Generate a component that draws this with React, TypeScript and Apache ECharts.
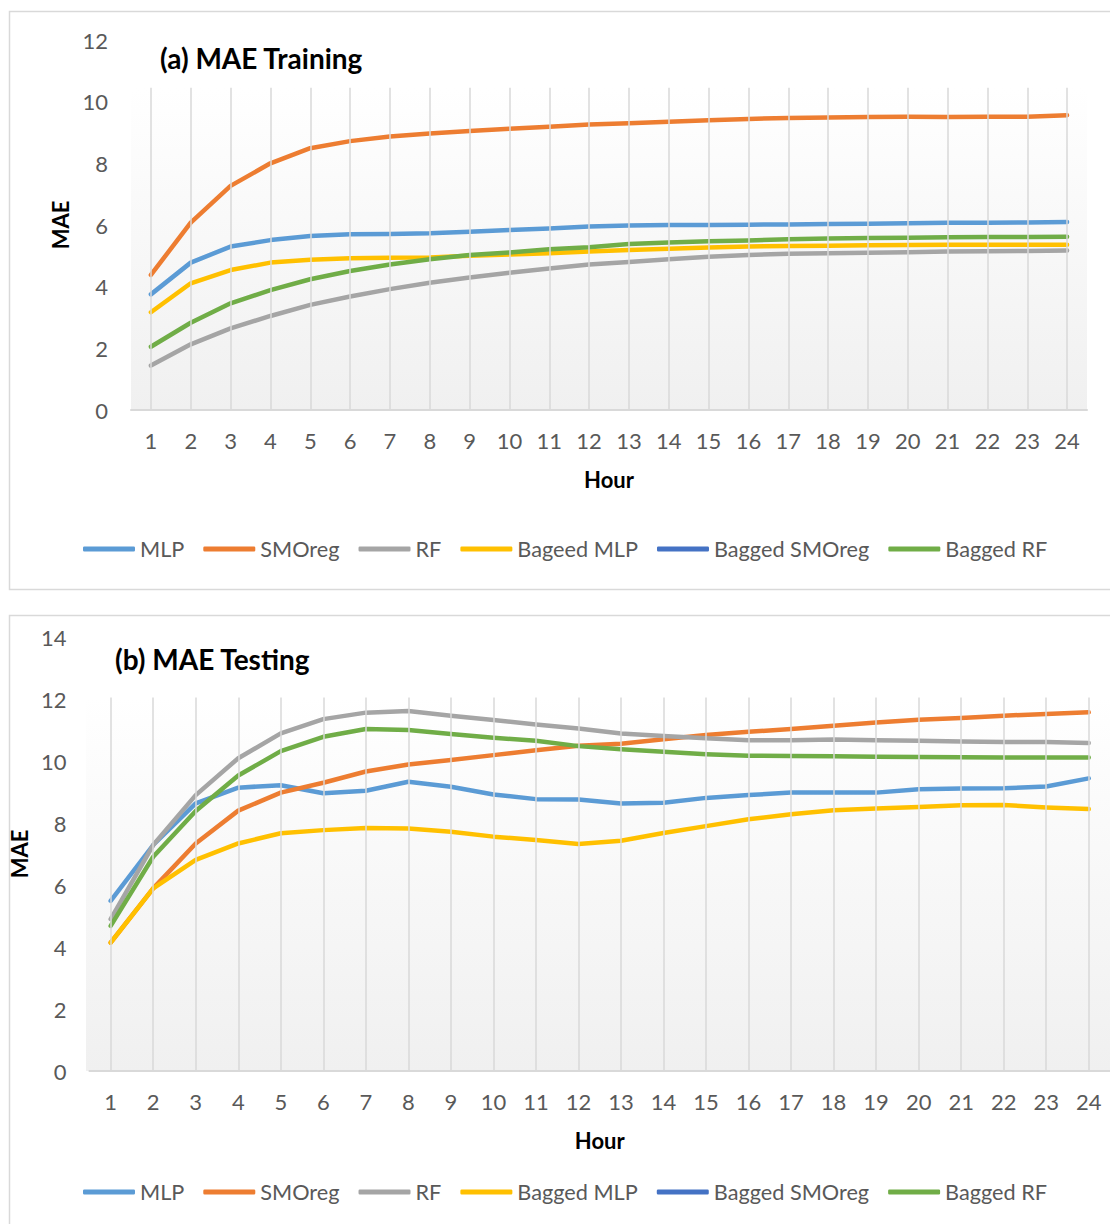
import React, { useEffect, useRef } from "react";
import * as echarts from "echarts";

const hours = ["1","2","3","4","5","6","7","8","9","10","11","12","13","14","15","16","17","18","19","20","21","22","23","24"];
const yTicksTrain = [0, 2, 4, 6, 8, 10, 12];
const yTicksTest = [0, 2, 4, 6, 8, 10, 12, 14];

const trainMLP = [3.75,4.78,5.30,5.51,5.64,5.70,5.71,5.73,5.78,5.84,5.89,5.95,5.98,6.00,6.00,6.01,6.02,6.03,6.04,6.06,6.07,6.07,6.08,6.10];
const trainSMOreg = [4.38,6.08,7.27,8.00,8.49,8.72,8.87,8.97,9.05,9.12,9.19,9.26,9.30,9.35,9.40,9.44,9.47,9.49,9.50,9.51,9.50,9.51,9.51,9.56];
const trainRF = [1.44,2.13,2.65,3.05,3.41,3.68,3.92,4.13,4.30,4.45,4.59,4.72,4.80,4.89,4.97,5.03,5.07,5.08,5.10,5.12,5.14,5.15,5.16,5.17];
const trainBagMLP = [3.17,4.11,4.54,4.78,4.87,4.92,4.94,4.95,5.00,5.04,5.08,5.14,5.19,5.23,5.27,5.30,5.32,5.33,5.34,5.35,5.36,5.36,5.36,5.36];
const trainBagSMOreg: number[] = [];
const trainBagRF = [2.05,2.83,3.46,3.89,4.24,4.51,4.72,4.89,5.03,5.11,5.21,5.28,5.38,5.43,5.47,5.50,5.54,5.56,5.58,5.59,5.60,5.61,5.61,5.62];

const testMLP = [5.49,7.29,8.63,9.14,9.22,8.96,9.04,9.33,9.17,8.92,8.77,8.76,8.63,8.65,8.81,8.90,8.98,8.98,8.98,9.09,9.11,9.12,9.18,9.44];
const testSMOreg = [4.14,5.89,7.34,8.40,8.98,9.30,9.66,9.89,10.03,10.19,10.35,10.49,10.56,10.70,10.84,10.94,11.03,11.14,11.24,11.33,11.39,11.46,11.52,11.57];
const testRF = [4.90,7.29,8.90,10.09,10.89,11.35,11.56,11.61,11.46,11.32,11.18,11.05,10.89,10.81,10.73,10.67,10.67,10.69,10.67,10.65,10.63,10.61,10.61,10.58];
const testBagMLP = [4.14,5.89,6.81,7.34,7.67,7.77,7.84,7.82,7.72,7.56,7.45,7.32,7.43,7.68,7.90,8.12,8.28,8.41,8.47,8.52,8.57,8.58,8.50,8.45];
const testBagSMOreg: number[] = [];
const testBagRF = [4.68,6.91,8.39,9.53,10.32,10.78,11.03,11.00,10.87,10.75,10.65,10.48,10.38,10.30,10.22,10.17,10.16,10.15,10.14,10.13,10.12,10.11,10.11,10.11];

const namesTrain = ["MLP", "SMOreg", "RF", "Bageed MLP", "Bagged SMOreg", "Bagged RF"];
const namesTest = ["MLP", "SMOreg", "RF", "Bagged MLP", "Bagged SMOreg", "Bagged RF"];
const colors = ["#5B9BD5", "#ED7D31", "#A5A5A5", "#FFC000", "#4472C4", "#70AD47"];

const FONT = "Lato";
const LABEL_COLOR = "#595959";

export default function App() {
  const ref = useRef<HTMLDivElement>(null);
  useEffect(() => {
    if (!ref.current) return;
    const chart = echarts.init(ref.current, null, { renderer: "svg" });
    const trainData = [trainMLP, trainSMOreg, trainRF, trainBagMLP, trainBagSMOreg, trainBagRF];
    const testData = [testMLP, testSMOreg, testRF, testBagMLP, testBagSMOreg, testBagRF];

    const mkSeries = (names: string[], data: number[][], idx: number) =>
      names.map((n, i) => ({
        type: "line",
        name: n,
        xAxisIndex: idx,
        yAxisIndex: idx,
        data: data[i],
        color: colors[i],
        showSymbol: false,
        symbol: "none",
        z: 3,
        lineStyle: { width: 4.5, color: colors[i], cap: "round", join: "round" },
      }));

    const gridLines = (idx: number, top: number) => ({
      type: "line",
      xAxisIndex: idx,
      yAxisIndex: idx,
      data: [],
      z: 1,
      silent: true,
      markLine: {
        silent: true,
        symbol: ["none", "none"],
        label: { show: false },
        lineStyle: { color: "#d9d9d9", width: 1.5, type: "solid" },
        data: hours.map((h) => [{ coord: [h, top] }, { coord: [h, 0] }]),
      },
    });

    const bgGrad = () =>
      new echarts.graphic.LinearGradient(0, 0, 0, 1, [
        { offset: 0, color: "#ffffff" },
        { offset: 1, color: "#f0f0f0" },
      ]);

    const axisLabel = { color: LABEL_COLOR, fontFamily: FONT, fontSize: 22 };
    const legendCommon = {
      left: 83, icon: "roundRect", itemWidth: 52, itemHeight: 5, itemGap: 19, padding: 0,
      textStyle: { color: LABEL_COLOR, fontFamily: FONT, fontSize: 21.7 },
    };

    chart.setOption({
      animation: false,
      textStyle: { fontFamily: FONT },
      graphic: [
        { type: "rect", z: -10, shape: { x: 9.5, y: 11.5, width: 1110, height: 578 }, style: { fill: "#ffffff", stroke: "#d9d9d9", lineWidth: 1.5 } },
        { type: "rect", z: -10, shape: { x: 9.5, y: 615.5, width: 1110, height: 640 }, style: { fill: "#ffffff", stroke: "#d9d9d9", lineWidth: 1.5 } },
        { type: "rect", z: -5, shape: { x: 131, y: 88, width: 956, height: 322 }, style: { fill: bgGrad() } },
        { type: "rect", z: -5, shape: { x: 86, y: 697, width: 1024, height: 374 }, style: { fill: bgGrad() } },
      ],
      title: [
        { text: "(a) MAE Training", left: 160, top: 44, padding: 0, textStyle: { fontFamily: FONT, fontWeight: "bold", fontSize: 28, color: "#000" } },
        { text: "(b) MAE Testing", left: 115, top: 645, padding: 0, textStyle: { fontFamily: FONT, fontWeight: "bold", fontSize: 28, color: "#000" } },
      ],
      legend: [
        { ...legendCommon, data: namesTrain, top: 538 },
        { ...legendCommon, data: namesTest, top: 1181 },
      ],
      grid: [
        { left: 131, width: 956, top: 40, height: 370 },
        { left: 86, width: 1024, top: 637, height: 434 },
      ],
      xAxis: [0, 1].map((i) => ({
        type: "category",
        gridIndex: i,
        data: hours,
        boundaryGap: true,
        axisLine: { show: true, lineStyle: { color: "#d9d9d9", width: 2 } },
        axisTick: { show: false },
        axisLabel: { ...axisLabel, margin: 19, interval: 0 },
        splitLine: { show: false },
        name: "Hour",
        nameLocation: "middle",
        nameGap: 58,
        nameTextStyle: { fontFamily: FONT, fontWeight: "bold", fontSize: 22, color: "#000" },
      })),
      yAxis: [
        {
          type: "value", gridIndex: 0, min: yTicksTrain[0], max: yTicksTrain[yTicksTrain.length - 1], interval: 2,
          axisLine: { show: false }, axisTick: { show: false }, splitLine: { show: false },
          axisLabel: { ...axisLabel, margin: 23 },
          name: "MAE", nameLocation: "middle", nameRotate: 90, nameGap: 59,
          nameTextStyle: { fontFamily: FONT, fontWeight: "bold", fontSize: 22, color: "#000" },
        },
        {
          type: "value", gridIndex: 1, min: yTicksTest[0], max: yTicksTest[yTicksTest.length - 1], interval: 2,
          axisLine: { show: false }, axisTick: { show: false }, splitLine: { show: false },
          axisLabel: { ...axisLabel, margin: 23 },
          name: "MAE", nameLocation: "middle", nameRotate: 90, nameGap: 33,
          nameTextStyle: { fontFamily: FONT, fontWeight: "bold", fontSize: 22, color: "#000" },
        },
      ],
      series: [
        gridLines(0, 10.45),
        gridLines(1, 12.05),
        ...mkSeries(namesTrain, trainData, 0),
        ...mkSeries(namesTest, testData, 1),
      ],
    });
    return () => chart.dispose();
  }, []);
  return (
    <div
      ref={ref}
      style={{ position: "absolute", left: 0, top: 0, width: 1110, height: 1224 }}
    />
  );
}
